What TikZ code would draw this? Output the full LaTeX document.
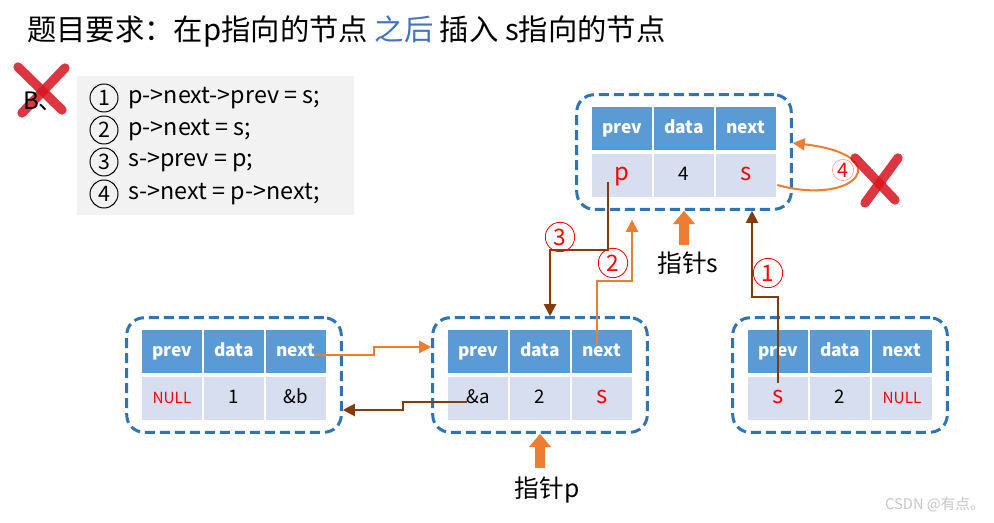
\documentclass[tikz,border=0pt]{standalone}
\usepackage{fontspec}
\setmainfont{Noto Sans CJK SC}
\usetikzlibrary{arrows.meta, positioning, calc, fit}

\definecolor{CellBlue}{RGB}{91,155,213}
\definecolor{CellLight}{RGB}{214,222,240}
\definecolor{BoxBlue}{RGB}{46,117,182}
\definecolor{ArrOrange}{RGB}{237,125,49}
\definecolor{ArrBrown}{RGB}{132,60,12}
\definecolor{TitleBlue}{RGB}{68,114,196}
\definecolor{CodeGray}{RGB}{242,242,242}
\definecolor{CrossRed}{RGB}{214,20,30}

\tikzset{
  headcell/.style={fill=CellBlue, text=white, font=\bfseries\fontsize{13}{15}\selectfont,
                   minimum width=45pt, minimum height=32.25pt, inner sep=0pt,
                   text height=0.92em, text depth=0.18em},
  datacell/.style={fill=CellLight, minimum width=45pt, minimum height=32.25pt,
                   inner sep=0pt, font=\fontsize{14}{16}\selectfont,
                   text height=0.92em, text depth=0.18em},
  listbox/.style={draw=BoxBlue, line width=2.25pt, dash pattern=on 7.5pt off 3.75pt,
                  rounded corners=13pt, inner xsep=11.25pt, inner ysep=9pt},
  orgline/.style={draw=ArrOrange, line width=1.5pt, -{Triangle[width=9pt,length=9pt]}},
  brnline/.style={draw=ArrBrown, line width=1.5pt, -{Triangle[width=9pt,length=9pt]}},
  ptrarrow/.style={draw=ArrOrange, line width=7.5pt, -{Triangle[width=16pt,length=10pt]}},
  ptrlabel/.style={font=\fontsize{18.5}{22}\selectfont, inner sep=0pt},
  circlabel/.style={circle, draw=red, text=red, line width=0.6pt, minimum size=22pt,
                    inner sep=0pt, font=\fontsize{17}{19}\selectfont},
  numcirc/.style={circle, draw=black, line width=0.75pt, minimum size=21pt,
                  inner sep=0pt, font=\fontsize{16}{18}\selectfont},
  codeline/.style={font=\fontsize{17.5}{20}\selectfont, inner sep=0pt, anchor=west},
  crossmark/.style={draw=CrossRed, line width=7pt, opacity=0.85, line cap=round}
}

\newcommand{\redv}[1]{\textcolor{red}{\fontsize{18}{20}\selectfont #1}}
\newcommand{\nullv}{\textcolor{red}{\fontsize{11.5}{13}\selectfont NULL}}

% name, x, y (top left of the table), prev, data, next
\newcommand{\dlnode}[6]{%
  \node[headcell] (#1-h1) at ({#2+30},{#3+21.5}) {prev};
  \node[headcell] (#1-h2) at ({#2+92},{#3+21.5}) {data};
  \node[headcell] (#1-h3) at ({#2+154},{#3+21.5}) {next};
  \node[datacell] (#1-d1) at ({#2+30},{#3+68.5}) {#4};
  \node[datacell] (#1-d2) at ({#2+92},{#3+68.5}) {#5};
  \node[datacell] (#1-d3) at ({#2+154},{#3+68.5}) {#6};
  \node[listbox, fit=(#1-h1)(#1-d3)] (#1) {};
}

\begin{document}
\begin{tikzpicture}[x=0.75pt, y=-0.75pt]
  \useasboundingbox (0,0) rectangle (994,523);

  % title
  \node[anchor=west, inner sep=0pt, font=\fontsize{22}{26}\selectfont] (title) at (27,31)
    {题目要求：在p指向的节点 \textcolor{TitleBlue}{之后} 插入 s指向的节点};

  % option B and its code
  \draw[crossmark] (18,67) -- (62,110);
  \draw[crossmark] (65,68) -- (22,113);
  \node[font=\fontsize{18}{20}\selectfont, inner sep=0pt] (optB) at (43,101) {B、};

  \node[fill=CodeGray, minimum width=207.75pt, minimum height=104.25pt] (code) at (215.5,145.5) {};
  \node[numcirc] (n1) at (104,98) {1};
  \node[numcirc] (n2) at (104,130) {2};
  \node[numcirc] (n3) at (104,162) {3};
  \node[numcirc] (n4) at (104,194) {4};
  \node[codeline, right=7pt of n1] (l1) {p->next->prev = s;};
  \node[codeline, right=7pt of n2] (l2) {p->next = s;};
  \node[codeline, right=7pt of n3] (l3) {s->prev = p;};
  \node[codeline, right=7pt of n4] (l4) {s->next = p->next;};

  % list nodes
  \dlnode{S}{592}{107}{\redv{p}}{4}{\redv{s}}
  \dlnode{A}{142}{330}{\nullv}{1}{\&b}
  \dlnode{B}{448}{330}{\&a}{2}{\redv{s}}
  \dlnode{C}{748}{330}{\redv{s}}{2}{\nullv}

  % pointers
  \node[ptrlabel] (sp) at (688,263) {指针s};
  \draw[ptrarrow] ($(S.south)+(0,34)$) -- (S.south);
  \node[ptrlabel] (pp) at (547,490) {指针p};
  \draw[ptrarrow] ($(B.south)+(0,34)$) -- (B.south);

  % links
  \draw[orgline] ($(A-h3.center)+(19,3.5)$) -- ++(59,0) |- ($(B.west)+(0,-28)$);
  \draw[brnline] ($(B-d1.center)+(-11,3.5)$) -- ++(-64,0) |- ($(A.east)+(0,35)$);
  \draw[brnline] ($(S-d1.center)+(-14,6.5)$) -- ++(0,68) -| ($(B.north)+(10,0)$);
  \draw[orgline] ($(B-h3.center)+(-5,-6.5)$) -- ++(0,-64) -| ($(S.south)+(-52,9)$);
  \draw[brnline] ($(C-d1.center)+(0,-15.5)$) -- ++(0,-86) -| ($(S.south)+(68,0)$);
  \draw[orgline] ($(S-d3.east)+(1,9.5)$) .. controls +(80,22) and +(105,12) .. ($(S.east)+(0,-9)$);

  % step numbers
  \node[circlabel] (lab1) at (768,273) {1};
  \node[circlabel] (lab2) at (613,263) {2};
  \node[circlabel] (lab3) at (560,237) {3};
  \node[circlabel, draw=red!45, line width=0.4pt, minimum size=16pt, font=\fontsize{15}{17}\selectfont] (lab4) at (843,170) {4};

  % wrong step
  \draw[crossmark] (855,158) -- (895,200);
  \draw[crossmark] (898,158) -- (865,203);

  \node[anchor=east, text=gray!45, inner sep=0pt, font=\fontsize{11}{13}\selectfont] (mark) at (985,505) {CSDN @有点。};
\end{tikzpicture}
\end{document}
